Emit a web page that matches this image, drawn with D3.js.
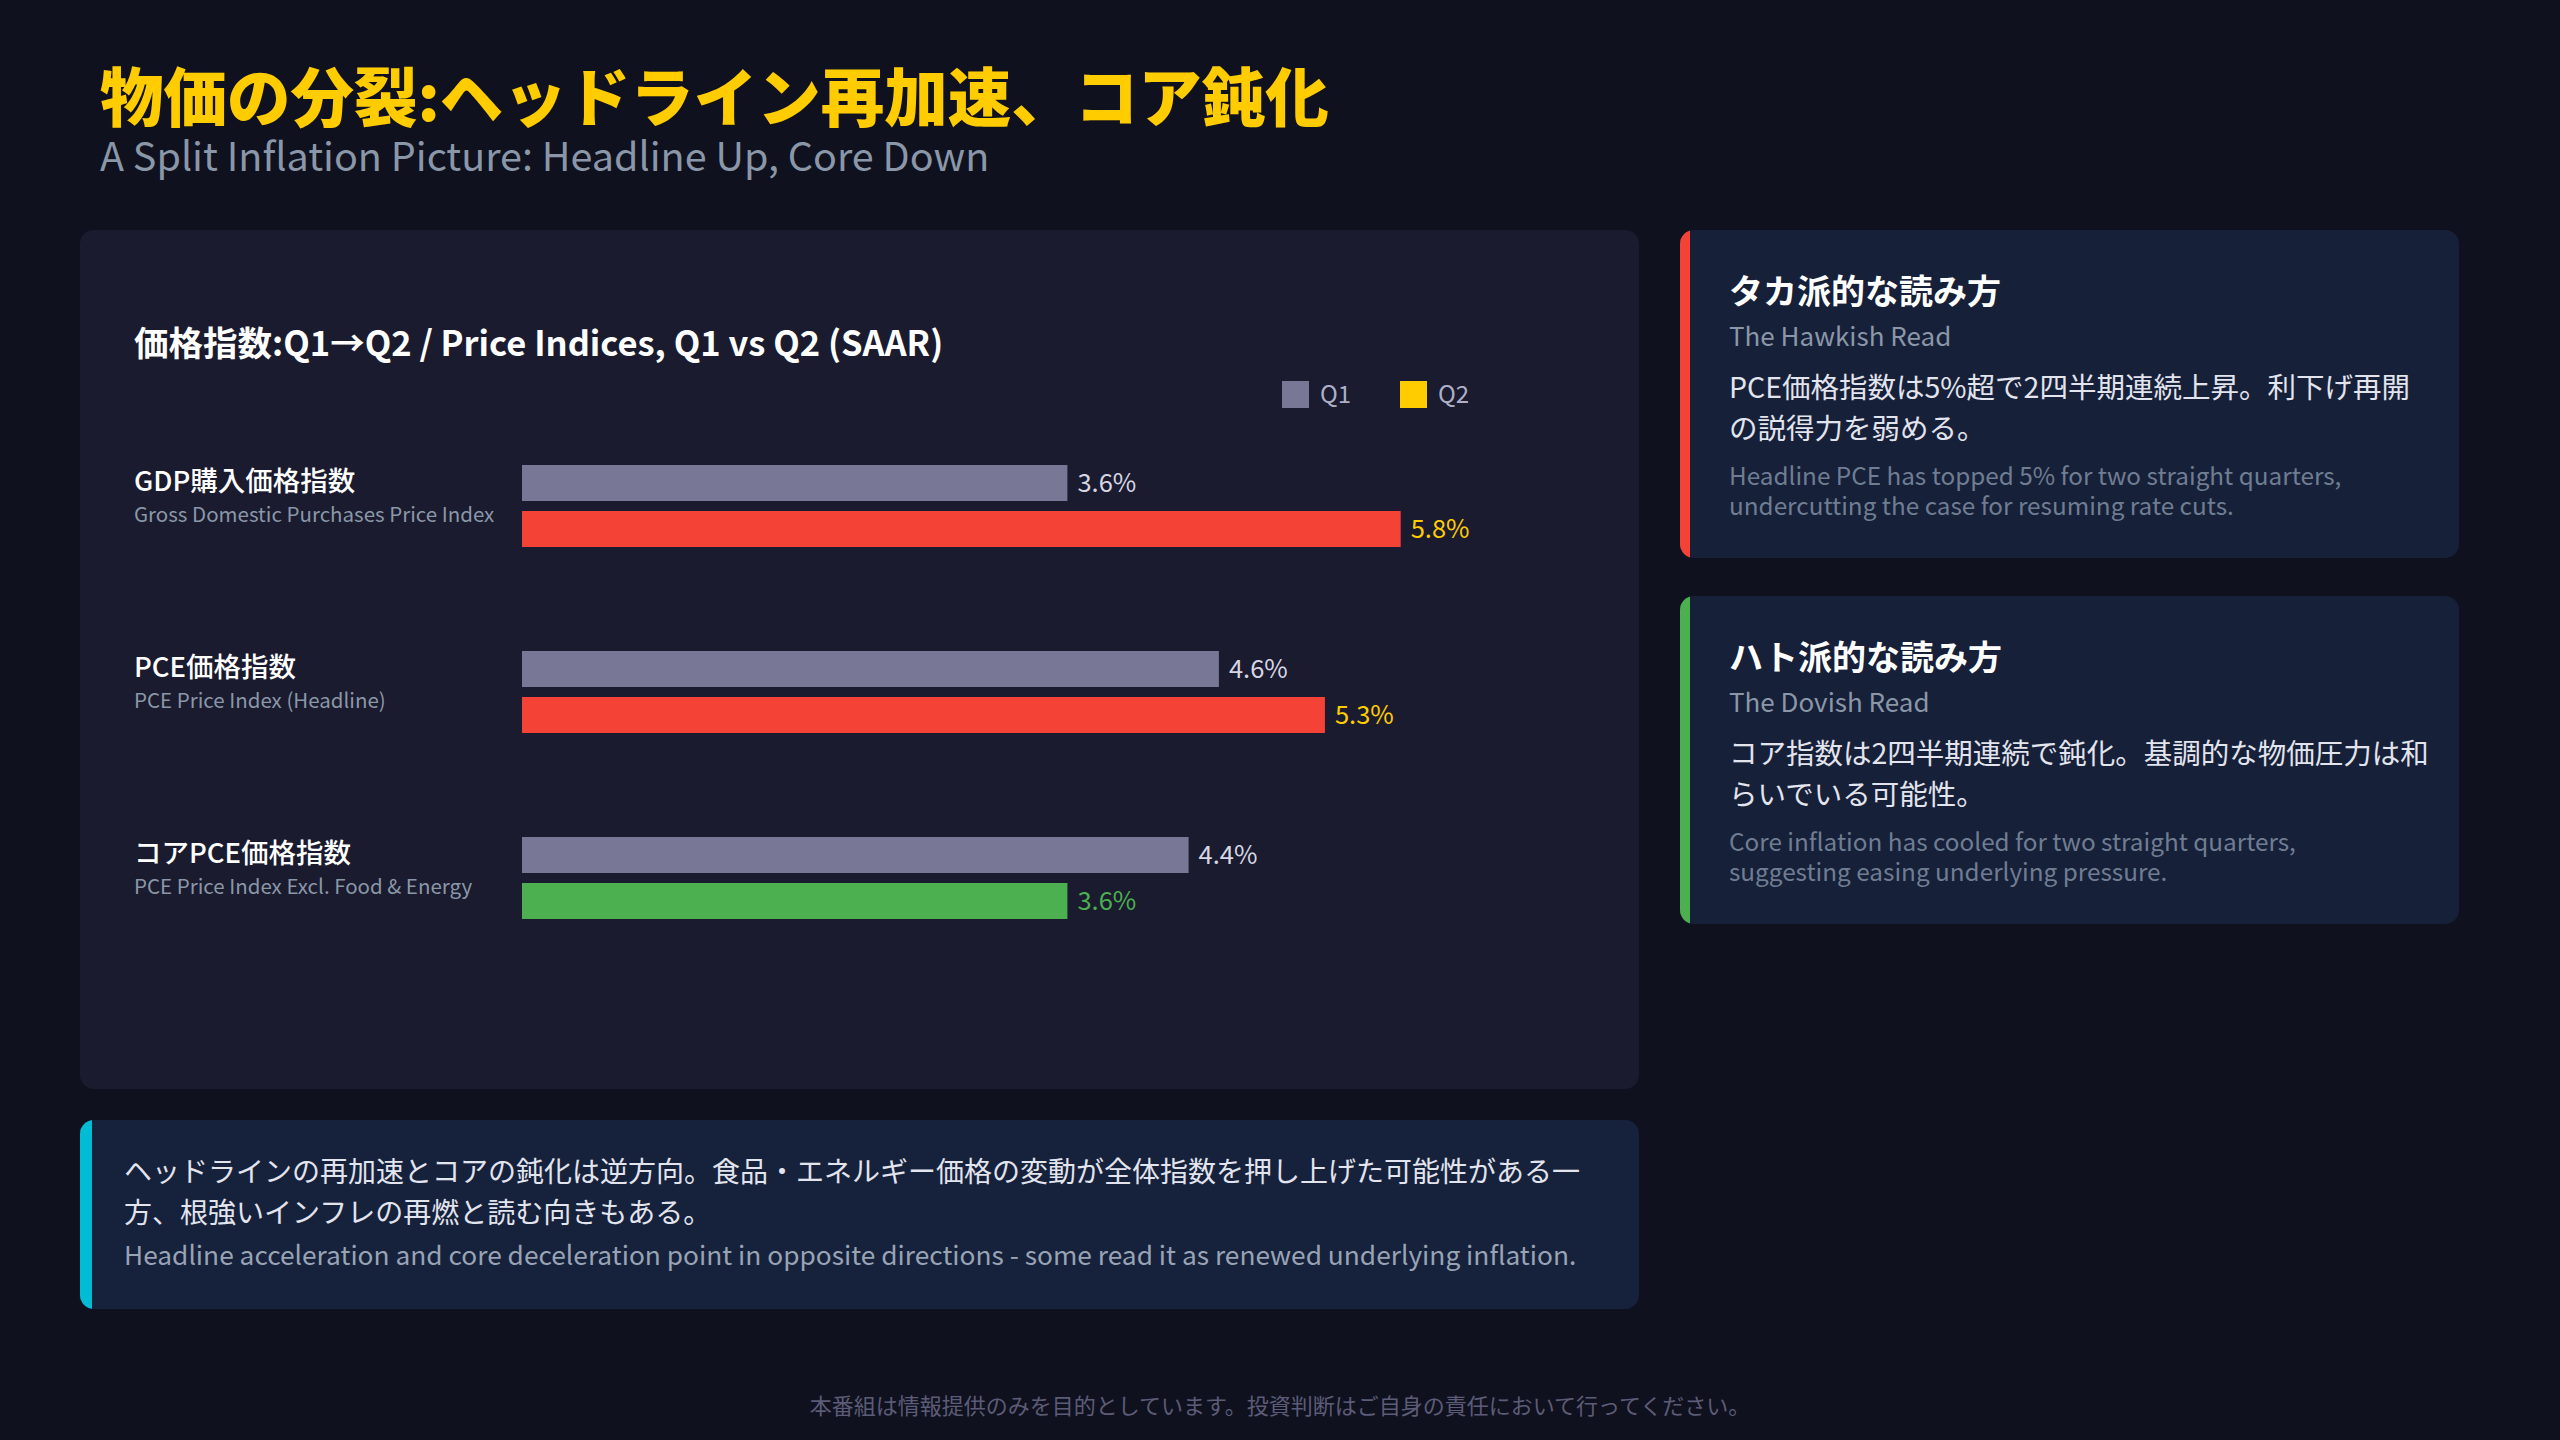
<!DOCTYPE html>
<html>
<head>
<meta charset="utf-8">
<script src="https://cdn.jsdelivr.net/npm/d3@7"></script>
<style>
  html, body { margin: 0; padding: 0; background: #10111e; }
  svg { display: block; }
  text { font-family: "Noto Sans CJK JP", "Noto Sans", sans-serif; }
</style>
</head>
<body>
<div id="chart"></div>
<script>
// data
var categories = ["GDP購入価格指数", "PCE価格指数", "コアPCE価格指数"];
var subLabels = ["Gross Domestic Purchases Price Index", "PCE Price Index (Headline)", "PCE Price Index Excl. Food & Energy"];
var q1Values = [3.6, 4.6, 4.4];
var q2Values = [5.8, 5.3, 3.6];
var seriesNames = ["Q1", "Q2"];

var hawkLines = ["PCE価格指数は5%超で2四半期連続上昇。利下げ再開", "の説得力を弱める。"];
var hawkEn = ["Headline PCE has topped 5% for two straight quarters,", "undercutting the case for resuming rate cuts."];
var doveLines = ["コア指数は2四半期連続で鈍化。基調的な物価圧力は和", "らいでいる可能性。"];
var doveEn = ["Core inflation has cooled for two straight quarters,", "suggesting easing underlying pressure."];
var noteLines = ["ヘッドラインの再加速とコアの鈍化は逆方向。食品・エネルギー価格の変動が全体指数を押し上げた可能性がある一", "方、根強いインフレの再燃と読む向きもある。"];
var noteEn = "Headline acceleration and core deceleration point in opposite directions - some read it as renewed underlying inflation.";

var W = 2560, H = 1440;
var svg = d3.select("#chart").append("svg")
    .attr("width", W)
    .attr("height", H);

svg.append("rect").attr("width", W).attr("height", H).attr("fill", "#10111e");

// headings
svg.append("text")
    .attr("x", 100).attr("y", 121)
    .attr("font-size", 63.5).attr("font-weight", 900)
    .attr("fill", "#ffcc00")
    .text("物価の分裂:ヘッドライン再加速、コア鈍化");
svg.append("text")
    .attr("x", 100).attr("y", 171)
    .attr("font-size", 39.5)
    .attr("fill", "#8a97a8")
    .text("A Split Inflation Picture: Headline Up, Core Down");

// chart panel
svg.append("rect")
    .attr("x", 80).attr("y", 230).attr("width", 1559).attr("height", 859)
    .attr("rx", 14).attr("fill", "#1a1b2e");

svg.append("text")
    .attr("x", 134).attr("y", 356)
    .attr("font-size", 34.5).attr("font-weight", 700)
    .attr("fill", "#ffffff")
    .text("価格指数:Q1→Q2 / Price Indices, Q1 vs Q2 (SAAR)");

// legend
var legendColors = ["#787896", "#ffcc00"];
var legend = svg.append("g").selectAll("g")
    .data(seriesNames)
    .enter().append("g")
    .attr("transform", function (d, i) { return "translate(" + (1282 + i * 118) + ",381)"; });
legend.append("rect")
    .attr("width", 27).attr("height", 27)
    .attr("fill", function (d, i) { return legendColors[i]; });
legend.append("text")
    .attr("x", 38).attr("y", 22)
    .attr("font-size", 24)
    .attr("fill", "#aeb0c8")
    .text(function (d) { return d; });

// scales
var x = d3.scaleLinear()
    .domain([0, 6.4])
    .range([522, 522 + 6.4 * 151.5]);
var y = d3.scaleBand()
    .domain(categories)
    .range([465, 465 + 186 * 3])
    .paddingInner(0);

var rows = svg.append("g").selectAll("g")
    .data(categories)
    .enter().append("g")
    .attr("transform", function (d) { return "translate(0," + y(d) + ")"; });

rows.append("text")
    .attr("x", 134).attr("y", 26)
    .attr("font-size", 27.5).attr("font-weight", 500)
    .attr("fill", "#ffffff")
    .text(function (d) { return d; });
rows.append("text")
    .attr("x", 134).attr("y", 57)
    .attr("font-size", 20.5)
    .attr("fill", "#8a97a8")
    .text(function (d, i) { return subLabels[i]; });

var barH = 36;
rows.append("rect")
    .attr("x", x(0)).attr("y", 0)
    .attr("width", function (d, i) { return x(q1Values[i]) - x(0); })
    .attr("height", barH)
    .attr("fill", "#787896");
rows.append("text")
    .attr("x", function (d, i) { return x(q1Values[i]) + 10; })
    .attr("y", barH / 2 + 9)
    .attr("font-size", 25.5)
    .attr("fill", "#d6d6e4")
    .text(function (d, i) { return q1Values[i].toFixed(1) + "%"; });

function q2Color(i) { return q2Values[i] > q1Values[i] ? "#f44336" : "#4caf50"; }
function q2LabelColor(i) { return q2Values[i] > q1Values[i] ? "#ffcc00" : "#4caf50"; }

rows.append("rect")
    .attr("x", x(0)).attr("y", 46)
    .attr("width", function (d, i) { return x(q2Values[i]) - x(0); })
    .attr("height", barH)
    .attr("fill", function (d, i) { return q2Color(i); });
rows.append("text")
    .attr("x", function (d, i) { return x(q2Values[i]) + 10; })
    .attr("y", 46 + barH / 2 + 9)
    .attr("font-size", 25.5)
    .attr("fill", function (d, i) { return q2LabelColor(i); })
    .text(function (d, i) { return q2Values[i].toFixed(1) + "%"; });

// side cards
function card(y0, accent, title, sub, jp, en) {
    var g = svg.append("g").attr("transform", "translate(1680," + y0 + ")");
    var clip = "clip" + y0;
    g.append("clipPath").attr("id", clip)
        .append("rect").attr("width", 779).attr("height", 328).attr("rx", 14);
    g.append("rect").attr("width", 779).attr("height", 328).attr("rx", 14).attr("fill", "#172039");
    g.append("rect").attr("width", 10).attr("height", 328).attr("fill", accent).attr("clip-path", "url(#" + clip + ")");
    g.append("text").attr("x", 49).attr("y", 74).attr("font-size", 34).attr("font-weight", 700)
        .attr("fill", "#ffffff").text(title);
    g.append("text").attr("x", 49).attr("y", 116).attr("font-size", 26)
        .attr("fill", "#8a97a8").text(sub);
    g.selectAll(".jp").data(jp).enter().append("text")
        .attr("x", 49).attr("y", function (d, i) { return 168 + i * 41; })
        .attr("font-size", 28.5).attr("fill", "#e2e4ee").text(function (d) { return d; });
    g.selectAll(".en").data(en).enter().append("text")
        .attr("x", 49).attr("y", function (d, i) { return 255 + i * 30; })
        .attr("font-size", 24.3).attr("fill", "#6f7d92").text(function (d) { return d; });
}
card(230, "#f44336", "タカ派的な読み方", "The Hawkish Read", hawkLines, hawkEn);
card(596, "#4caf50", "ハト派的な読み方", "The Dovish Read", doveLines, doveEn);

// bottom note
var note = svg.append("g").attr("transform", "translate(80,1120)");
note.append("clipPath").attr("id", "clipNote")
    .append("rect").attr("width", 1559).attr("height", 189).attr("rx", 14);
note.append("rect").attr("width", 1559).attr("height", 189).attr("rx", 14).attr("fill", "#16213c");
note.append("rect").attr("width", 12).attr("height", 189).attr("fill", "#00bcd4").attr("clip-path", "url(#clipNote)");
note.selectAll(".jp").data(noteLines).enter().append("text")
    .attr("x", 44).attr("y", function (d, i) { return 62 + i * 41; })
    .attr("font-size", 28).attr("fill", "#e2e4ee").text(function (d) { return d; });
note.append("text")
    .attr("x", 44).attr("y", 145)
    .attr("font-size", 26.3).attr("fill", "#98a3b4").text(noteEn);

// footer
svg.append("text")
    .attr("x", 1280).attr("y", 1414)
    .attr("text-anchor", "middle")
    .attr("font-size", 22)
    .attr("fill", "#5c5c78")
    .text("本番組は情報提供のみを目的としています。投資判断はご自身の責任において行ってください。");
</script>
</body>
</html>
